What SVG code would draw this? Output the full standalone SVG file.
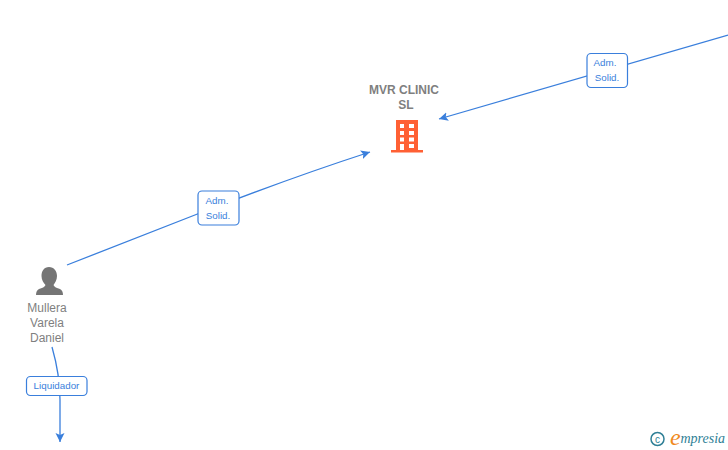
<svg xmlns="http://www.w3.org/2000/svg" width="728" height="450" viewBox="0 0 728 450">
<style>
.edge{fill:none;stroke:#3a7fdc;stroke-width:1.3}
.lab{fill:#fff;stroke:#3a7fdc;stroke-width:1.2}
.lt{font-family:"Liberation Sans",Arial,sans-serif;font-size:9.800px;fill:#3a7fdc;text-anchor:middle}
.nt{font-family:"Liberation Sans",Arial,sans-serif;font-size:12px;fill:#7f7f7f;text-anchor:middle}
.bold{font-weight:bold}
</style>
<defs>
<marker id="arr" markerUnits="userSpaceOnUse" markerWidth="12" markerHeight="10" refX="9" refY="5" orient="auto">
<path d="M0,0.500 L9,5 L0,9.500 L2,5 Z" fill="#3a7fdc"/>
</marker>
</defs>
<rect width="728" height="450" fill="#fff"/>
<g id="connectors">
<path class="edge" d="M67,265 L200,213 Q290,178 370,152" marker-end="url(#arr)"/>
<path class="edge" d="M728,35 Q580,78 439,119" marker-end="url(#arr)"/>
<path class="edge" d="M52,347 Q60,375 60,400 L60,442" marker-end="url(#arr)"/>
</g>
<g id="label-adm-1">
<rect class="lab" x="198" y="191" width="41" height="34" rx="4"/>
<text class="lt" x="217" y="204">Adm.</text><text class="lt" x="218" y="219">Solid.</text>
</g>
<g id="label-adm-2">
<rect class="lab" x="587" y="53.500" width="40.500" height="34" rx="4"/>
<text class="lt" x="605" y="66">Adm.</text><text class="lt" x="607" y="81">Solid.</text>
</g>
<g id="label-liquidador">
<rect class="lab" x="26.500" y="376.500" width="60.500" height="19" rx="4"/>
<text class="lt" x="56.500" y="389">Liquidador</text>
</g>
<g id="node-mvr">
<text class="nt bold" x="404" y="94">MVR CLINIC</text>
<text class="nt bold" x="406" y="109">SL</text>
<path fill="#ff6034" fill-rule="evenodd" d="M396,120 H418 V150 H423 V152.500 H391 V150 H396 Z M400,124 V128 H404 V124 Z M409,124 V128 H414 V124 Z M400,131 V135 H404 V131 Z M409,131 V135 H414 V131 Z M400,137.500 V141.500 H404 V137.500 Z M409,137.500 V141.500 H414 V137.500 Z M400,144 V150 H404 V144 Z M409,144 V148 H414 V144 Z"/>
</g>
<g id="node-person">
<path fill="#757575" d="M49,267 C54,267 57,271 57,276 C57,280 55,283 53.500,285 C54,287 57,288 60,289 C62,290 63,292 63,295 H36 C36,292 37,290 39,289 C42,288 45,287 45.500,285 C43.500,283 41.500,280 41.500,276 C41.500,271 44,267 49,267 Z"/>
<text class="nt" x="47" y="312">Mullera</text>
<text class="nt" x="47" y="327">Varela</text>
<text class="nt" x="47" y="342">Daniel</text>
</g>
<g id="logo">
<circle cx="657.500" cy="439" r="6.500" fill="none" stroke="#2f7f96" stroke-width="1.500"/>
<text x="657.500" y="442.500" font-family="'Liberation Sans',sans-serif" font-size="10" fill="#2f7f96" text-anchor="middle">c</text>
<text x="670" y="445" font-family="'Liberation Serif',serif" font-style="italic" font-size="24" fill="#f08a1d">e</text>
<text x="680.500" y="443" font-family="'Liberation Serif',serif" font-style="italic" font-size="14" fill="#2f7f96">mpresia</text>
</g>
</svg>
